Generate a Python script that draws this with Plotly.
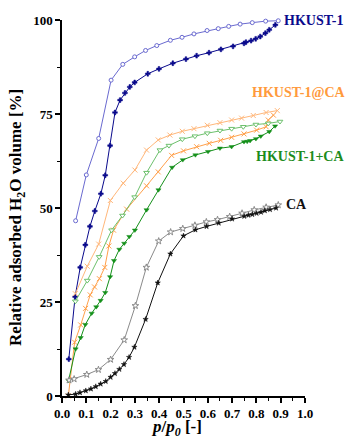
import plotly.graph_objects as go

# ---------------- data ----------------
hk_ads_x = [0.028, 0.054, 0.075, 0.096, 0.115, 0.135, 0.16, 0.178, 0.198, 0.218, 0.239, 0.259, 0.279, 0.299,
            0.353, 0.399, 0.456, 0.51, 0.554, 0.605, 0.654, 0.704, 0.749, 0.757, 0.778, 0.797, 0.816, 0.837, 0.853, 0.878]
hk_ads_y = [9.8, 26.4, 34.2, 40.2, 45.1, 49.2, 53.8, 58.7, 66.6, 75.4, 78.7, 80.6, 82.2, 83.4,
            85.7, 87.0, 88.5, 89.6, 90.5, 91.3, 92.2, 93.0, 93.8, 94.1, 94.5, 95.0, 95.6, 96.5, 97.4, 98.7]
hk_des_x = [0.89, 0.838, 0.783, 0.733, 0.686, 0.643, 0.597, 0.543, 0.494, 0.446, 0.39, 0.344, 0.299, 0.25,
            0.202, 0.151, 0.1, 0.056]
hk_des_y = [99.8, 99.7, 99.3, 98.9, 98.3, 97.7, 97.2, 96.3, 95.4, 94.6, 93.2, 91.9, 90.2, 88.2,
            84.0, 68.5, 58.8, 46.6]

hkca_ads_x = [0.026, 0.052, 0.077, 0.097, 0.116, 0.134, 0.154, 0.176, 0.193, 0.212, 0.266, 0.348, 0.396,
              0.451, 0.5, 0.554, 0.606, 0.653, 0.698, 0.749, 0.801, 0.84, 0.849, 0.87]
hkca_ads_y = [0.0, 14.3, 18.9, 23.3, 26.9, 29.0, 31.2, 34.2, 39.9, 44.1, 49.7, 55.9, 59.6,
              64.0, 65.2, 66.3, 67.2, 68.0, 68.8, 69.7, 70.7, 71.6, 73.4, 74.7]
hkca_des_x = [0.886, 0.84, 0.787, 0.739, 0.698, 0.65, 0.598, 0.543, 0.495, 0.444, 0.396, 0.348, 0.3,
              0.252, 0.199, 0.151, 0.104, 0.055]
hkca_des_y = [75.9, 75.4, 74.6, 73.9, 73.4, 72.7, 72.0, 71.1, 70.4, 69.4, 68.1, 65.4, 60.1,
              56.6, 52.0, 40.4, 34.5, 27.2]

hkpca_ads_x = [0.027, 0.056, 0.077, 0.096, 0.122, 0.141, 0.159, 0.178, 0.198, 0.214, 0.236, 0.256, 0.277,
               0.3, 0.348, 0.397, 0.453, 0.497, 0.549, 0.601, 0.65, 0.698, 0.749, 0.762, 0.774, 0.798, 0.818,
               0.853, 0.877]
hkpca_ads_y = [4.1, 12.5, 15.5, 19.0, 22.0, 23.7, 25.4, 27.5, 31.7, 36.0, 39.0, 40.6, 42.4,
               44.1, 49.5, 54.8, 60.8, 62.8, 64.1, 65.0, 65.9, 66.3, 67.6, 67.7, 67.9, 68.4, 69.1,
               70.3, 71.8]
hkpca_des_x = [0.897, 0.849, 0.798, 0.746, 0.698, 0.65, 0.598, 0.547, 0.495, 0.44, 0.403, 0.348, 0.299,
               0.249, 0.204, 0.153, 0.104, 0.055]
hkpca_des_y = [73.0, 72.5, 72.2, 71.6, 71.1, 70.6, 69.9, 69.1, 68.3, 66.6, 65.4, 59.4, 52.9,
               48.0, 44.1, 37.0, 30.7, 25.2]

ca_ads_x = [0.026, 0.056, 0.074, 0.098, 0.119, 0.139, 0.159, 0.18, 0.2, 0.218, 0.236, 0.255, 0.276, 0.298,
            0.344, 0.394, 0.446, 0.5, 0.549, 0.595, 0.645, 0.7, 0.75, 0.767, 0.783, 0.801, 0.819, 0.835,
            0.856, 0.881]
ca_ads_y = [0.3, 0.5, 0.9, 1.4, 1.9, 2.5, 3.2, 3.9, 5.0, 6.0, 7.1, 8.4, 10.3, 13.0,
            20.4, 30.1, 37.8, 42.6, 44.2, 45.1, 46.0, 47.1, 47.8, 48.1, 48.3, 48.6, 48.9, 49.3,
            49.6, 50.0]
ca_des_x = [0.89, 0.84, 0.791, 0.741, 0.69, 0.64, 0.594, 0.547, 0.497, 0.447, 0.398, 0.347, 0.302, 0.256,
            0.2, 0.15, 0.102, 0.05, 0.029]
ca_des_y = [50.8, 50.2, 49.5, 48.6, 47.7, 46.9, 46.3, 45.4, 44.5, 43.6, 41.2, 34.2, 24.0, 14.9,
            9.7, 7.0, 5.7, 4.5, 4.2]

labels = ["HKUST-1", "HKUST-1@CA", "HKUST-1+CA", "CA"]
label_x = [0.905, 0.772, 0.792, 0.913]
label_y = [1.0, 0.807, 0.636, 0.508]   # fraction of plot height

x_ticks = [0.0, 0.1, 0.2, 0.3, 0.4, 0.5, 0.6, 0.7, 0.8, 0.9, 1.0]
x_ticktext = ["0.0", "0.1", "0.2", "0.3", "0.4", "0.5", "0.6", "0.7", "0.8", "0.9", "1.0"]
y_ticks = [0, 25, 50, 75, 100]

# ---------------- style ----------------
FONT = "Liberation Serif, Times New Roman, serif"
navy = "#0a0a8c"
navy_light = "#6a6ad0"
orange = "#ffa04a"
orange_light = "#ffb77a"
green = "#14901a"
green_light = "#6cc06c"
black = "#111111"
gray = "#8a8a8a"
label_colors = [navy, "#ff9a3c", "#1c8c1c", "#111111"]

fig = go.Figure()

def add(x, y, color, symbol, size, mline=None, fill=None, mlw=1):
    fig.add_trace(go.Scatter(
        x=x, y=y, mode="lines+markers",
        line=dict(color=color, width=1),
        marker=dict(symbol=symbol, size=size,
                    color=fill if fill is not None else color,
                    line=dict(color=mline or color, width=mlw)),
        cliponaxis=False, showlegend=False, hoverinfo="skip"))

add(hk_des_x, hk_des_y, navy_light, "circle", 4, fill="white", mline=navy_light)
add(hk_ads_x, hk_ads_y, navy, "cross", 4, mline=navy, mlw=0.5)
add(hkca_des_x, hkca_des_y, orange_light, "x-thin-open", 5)
add(hkca_ads_x, hkca_ads_y, orange, "x-thin-open", 5)
add(hkpca_des_x, hkpca_des_y, green_light, "triangle-down", 5, fill="white", mline=green_light)
add(hkpca_ads_x, hkpca_ads_y, green, "triangle-down", 4.5, mlw=0.5)
add(ca_des_x, ca_des_y, gray, "star", 5, fill="white", mline=gray)
add(ca_ads_x, ca_ads_y, black, "star", 4, mlw=0.5)

for t, lx, ly, c in zip(labels, label_x, label_y, label_colors):
    fig.add_annotation(x=lx, y=ly, xref="x", yref="paper", text=t, showarrow=False,
                       xanchor="left", yanchor="middle",
                       font=dict(family=FONT, size=14, color=c, weight="bold"))

fig.add_annotation(x=-0.183, y=0.475, xref="paper", yref="paper",
                   text="Relative adsorbed H<sub>2</sub>O volume [%]", textangle=-90,
                   showarrow=False, xanchor="center", yanchor="middle",
                   font=dict(family=FONT, size=17, color="black", weight="bold"))
fig.add_annotation(x=0.473, y=-0.085, xref="paper", yref="paper",
                   text="<i>p</i>/<i>p</i><sub><i>0</i></sub> [-]",
                   showarrow=False, xanchor="center", yanchor="middle",
                   font=dict(family=FONT, size=17, color="black", weight="bold"))

fig.update_layout(
    width=348, height=439,
    margin=dict(l=62, r=43, t=20, b=43),
    paper_bgcolor="white", plot_bgcolor="white",
    xaxis=dict(range=[0, 1], tickvals=x_ticks, ticktext=x_ticktext,
               showgrid=False, zeroline=False, showline=True, linecolor="black", linewidth=1.5,
               ticks="outside", ticklen=5, tickwidth=1.5, tickcolor="black",
               minor=dict(dtick=0.05, ticks="outside", ticklen=3, tickwidth=1, tickcolor="black"),
               tickfont=dict(family=FONT, size=13, color="black", weight="bold")),
    yaxis=dict(range=[0, 100], tickvals=y_ticks,
               showgrid=False, zeroline=False, showline=True, linecolor="black", linewidth=1.5,
               ticks="outside", ticklen=5, tickwidth=1.5, tickcolor="black",
               minor=dict(dtick=12.5, ticks="outside", ticklen=3, tickwidth=1, tickcolor="black"),
               tickfont=dict(family=FONT, size=13, color="black", weight="bold")),
)

fig.write_html("out.html")
